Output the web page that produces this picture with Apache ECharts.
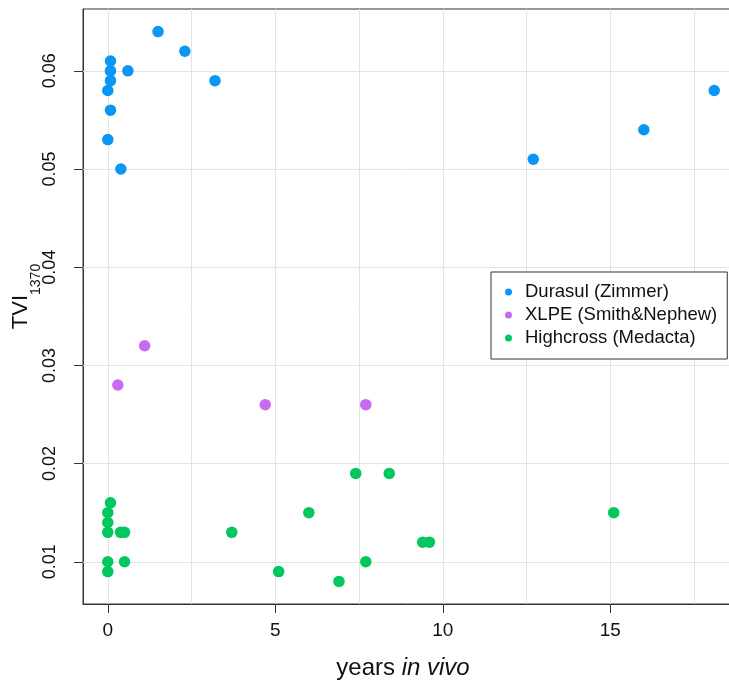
<!DOCTYPE html>
<html>
<head>
<meta charset="utf-8">
<script src="https://cdn.jsdelivr.net/npm/echarts@6/dist/echarts.min.js"></script>
<style>
html,body{margin:0;padding:0;background:#fff;}
#chart{width:729px;height:684px;}
</style>
</head>
<body>
<div id="chart"></div>
<script>
// ---- data ----
const seriesNames = ['Durasul (Zimmer)', 'XLPE (Smith&Nephew)', 'Highcross (Medacta)'];
const seriesColors = ['#0a96f5', '#c86af2', '#00c85e'];

const durasulX = [0, 0, 0.08, 0.08, 0.08, 0.08, 0.39, 0.6, 1.5, 2.3, 3.2, 12.7, 16.0, 18.1];
const durasulY = [0.058, 0.053, 0.061, 0.060, 0.059, 0.056, 0.050, 0.060, 0.064, 0.062, 0.059, 0.051, 0.054, 0.058];

const xlpeX = [0.3, 1.1, 4.7, 7.7];
const xlpeY = [0.028, 0.032, 0.026, 0.026];

const highcrossX = [0.08, 0, 0, 0, 0.38, 0.5, 0, 0.5, 0, 3.7, 5.1, 6.0, 6.9, 7.4, 7.7, 8.4, 9.4, 9.6, 15.1];
const highcrossY = [0.016, 0.015, 0.014, 0.013, 0.013, 0.013, 0.010, 0.010, 0.009, 0.013, 0.009, 0.015, 0.008, 0.019, 0.010, 0.019, 0.012, 0.012, 0.015];

const xTickLabels = [0, 5, 10, 15];
const yTickLabels = [0.01, 0.02, 0.03, 0.04, 0.05, 0.06];
const xGridValues = [0, 2.5, 5, 7.5, 10, 12.5, 15, 17.5];
const yGridValues = [0.01, 0.02, 0.03, 0.04, 0.05, 0.06];

const FONT = '"Liberation Sans", Arial, sans-serif';

function zip(xs, ys) { return xs.map((x, i) => [x, ys[i]]); }

const chart = echarts.init(document.getElementById('chart'), null, { renderer: 'canvas' });

const gridMarkLines = []
  .concat(xGridValues.map(v => ({ xAxis: v })))
  .concat(yGridValues.map(v => ({ yAxis: v })));

const option = {
  animation: false,
  backgroundColor: '#ffffff',
  grid: {
    left: 83, right: -10, top: 9, bottom: 80,
    outerBoundsMode: 'none', containLabel: false,
    show: true, borderColor: '#333333', borderWidth: 1, backgroundColor: 'transparent'
  },
  xAxis: {
    type: 'value',
    min: -0.74, max: 18.84,
    name: '{a|years }{b|in vivo}',
    nameLocation: 'middle',
    nameGap: 52,
    nameMoveOverlap: false,
    nameTextStyle: {
      padding: [0, 16, 0, 0],
      rich: {
        a: { fontSize: 24, fontFamily: FONT, color: '#111' },
        b: { fontSize: 24, fontFamily: FONT, fontStyle: 'italic', color: '#111' }
      }
    },
    axisLine: { show: true, onZero: false, lineStyle: { color: '#333', width: 1 } },
    axisTick: { show: true, length: 9, customValues: xTickLabels, lineStyle: { color: '#333' } },
    axisLabel: { customValues: xTickLabels, margin: 17, fontSize: 19, fontFamily: FONT, color: '#111' },
    splitLine: { show: false }
  },
  yAxis: {
    type: 'value',
    min: 0.0057, max: 0.0663,
    name: '{m|TVI}{s|1370}',
    nameLocation: 'middle',
    nameGap: 40,
    nameRotate: 90,
    nameMoveOverlap: false,
    nameTextStyle: {
      padding: [0, 0, 0, 20],
      rich: {
        m: { fontSize: 22, fontFamily: FONT, color: '#111', lineHeight: 44, verticalAlign: 'middle' },
        s: { fontSize: 14, fontFamily: FONT, color: '#111', lineHeight: 14, verticalAlign: 'bottom' }
      }
    },
    axisLine: { show: true, onZero: false, lineStyle: { color: '#333', width: 1 } },
    axisTick: { show: true, length: 9, customValues: yTickLabels, lineStyle: { color: '#333' } },
    axisLabel: {
      customValues: yTickLabels, rotate: 90, margin: 24, fontSize: 18, fontFamily: FONT, color: '#111',
      formatter: v => v.toFixed(2)
    },
    splitLine: { show: false }
  },
  legend: {
    orient: 'vertical',
    left: 491, top: 272,
    z: 10,
    padding: [10, 10, 11, 14],
    itemGap: 3,
    itemWidth: 7, itemHeight: 7,
    icon: 'circle',
    borderColor: '#333', borderWidth: 1, borderRadius: 0,
    backgroundColor: '#ffffff',
    textStyle: { fontSize: 18.5, fontFamily: FONT, color: '#111', lineHeight: 20, padding: [0, 0, 0, 8] },
    data: seriesNames
  },
  series: [
    {
      name: '__grid', type: 'scatter', data: [], z: 1, silent: true,
      markLine: {
        z: 1,
        silent: true, symbol: 'none', animation: false,
        label: { show: false },
        lineStyle: { color: '#e3e3e3', width: 1, type: 'solid' },
        emphasis: { disabled: true },
        data: gridMarkLines
      }
    },
    { name: seriesNames[0], type: 'scatter', z: 3, symbolSize: 11.5, itemStyle: { color: seriesColors[0], opacity: 1 }, data: zip(durasulX, durasulY) },
    { name: seriesNames[1], type: 'scatter', z: 3, symbolSize: 11.5, itemStyle: { color: seriesColors[1], opacity: 1 }, data: zip(xlpeX, xlpeY) },
    { name: seriesNames[2], type: 'scatter', z: 3, symbolSize: 11.5, itemStyle: { color: seriesColors[2], opacity: 1 }, data: zip(highcrossX, highcrossY) }
  ]
};
chart.setOption(option);
</script>
</body>
</html>
